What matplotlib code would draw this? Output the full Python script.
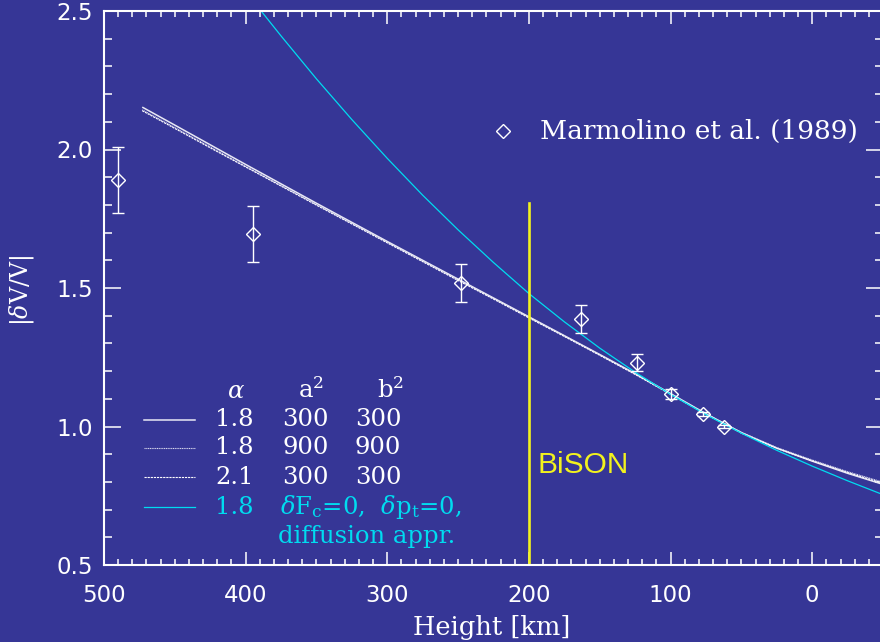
import matplotlib
matplotlib.use("Agg")
import matplotlib.pyplot as plt
from matplotlib.lines import Line2D
from matplotlib.ticker import MultipleLocator

# ---------------- data ----------------
obs_height = [490, 395, 248, 163, 124, 100, 77, 62]
obs_value = [1.89, 1.695, 1.518, 1.388, 1.230, 1.117, 1.045, 1.000]
obs_err = [0.12, 0.10, 0.07, 0.05, 0.03, 0.018, 0.008, 0.005]

model_height = [473, 450, 425, 400, 375, 350, 325, 300, 275, 250, 225, 200,
                175, 150, 125, 100, 75, 50, 25, 0, -25, -50]
model_a18_300 = [2.153, 2.088, 2.017, 1.946, 1.876, 1.806, 1.737, 1.668, 1.600,
                 1.532, 1.464, 1.396, 1.328, 1.260, 1.191, 1.119, 1.046, 0.978,
                 0.922, 0.875, 0.831, 0.791]
model_a18_900 = [2.143, 2.079, 2.009, 1.939, 1.870, 1.801, 1.733, 1.665, 1.597,
                 1.529, 1.462, 1.394, 1.327, 1.259, 1.190, 1.118, 1.046, 0.979,
                 0.924, 0.879, 0.837, 0.799]
model_a21_300 = [2.140, 2.076, 2.006, 1.937, 1.868, 1.799, 1.731, 1.663, 1.595,
                 1.527, 1.460, 1.392, 1.325, 1.257, 1.188, 1.116, 1.044, 0.976,
                 0.921, 0.876, 0.834, 0.795]

diff_height = [390, 375, 350, 325, 300, 275, 250, 225, 200, 175, 150, 125, 100,
               75, 50, 25, 0, -25, -50]
diff_value = [2.506, 2.410, 2.255, 2.108, 1.968, 1.835, 1.710, 1.592, 1.480,
              1.378, 1.283, 1.196, 1.116, 1.043, 0.976, 0.914, 0.857, 0.804,
              0.754]

bison_height = [200, 200]
bison_range = [0.5, 1.807]

x_ticks = [500, 400, 300, 200, 100, 0]
y_ticks = [0.5, 1.0, 1.5, 2.0, 2.5]

legend_rows = [("1.8", "300", "300"), ("1.8", "900", "900"), ("2.1", "300", "300")]

# ---------------- style ----------------
BG = "#363696"
CYAN = "#00dcf0"
YELLOW = "#f2f21e"
W, H = 880, 642
plt.rcParams["mathtext.fontset"] = "dejavuserif"
SERIF = "DejaVu Serif"

fig = plt.figure(figsize=(W / 100, H / 100), dpi=100, facecolor=BG)
ax = fig.add_axes([104 / W, 1 - 565 / H, (883 - 104) / W, (565 - 11) / H])
ax.set_facecolor(BG)

ax.plot(model_height, model_a18_300, color="#e8e8f4", lw=1.1, solid_capstyle="butt")
ax.plot(model_height, model_a18_900, color="#d8d8ee", lw=0.8, ls=(0, (1, 0.6)))
ax.plot(model_height, model_a21_300, color="#ffffff", lw=0.8, ls=(0, (2, 0.8)))
ax.plot(diff_height, diff_value, color=CYAN, lw=0.9)

ax.plot(bison_height, bison_range, color=YELLOW, lw=1.9)

ax.errorbar(obs_height, obs_value, yerr=obs_err, fmt="none", ecolor="white",
            elinewidth=1.0, capsize=4.5, capthick=1.0)
ax.plot(obs_height, obs_value, ls="none", marker="D", ms=7, mfc="none",
        mec="white", mew=1.0)

ax.set_xlim(500, -50)
ax.set_ylim(0.5, 2.5)
ax.set_xticks(x_ticks)
ax.set_yticks(y_ticks)
ax.xaxis.set_minor_locator(MultipleLocator(10))
ax.yaxis.set_minor_locator(MultipleLocator(0.1))
ax.set_xticklabels([str(v) for v in x_ticks])
ax.set_yticklabels([f"{v:.1f}" for v in y_ticks])

for s in ax.spines.values():
    s.set_color("white")
    s.set_linewidth(1.5)
ax.tick_params(which="both", direction="in", colors="white", top=True, right=True)
ax.tick_params(axis="x", which="major", length=9.5, width=1.1, pad=14,
               labelsize=16.5)
ax.tick_params(axis="x", which="minor", length=4.5, width=1.1)
ax.tick_params(axis="y", which="major", length=12, width=1.1, pad=8,
               labelsize=16.5)
ax.tick_params(axis="y", which="minor", length=6, width=1.1)
for lab in ax.get_xticklabels() + ax.get_yticklabels():
    lab.set_family("DejaVu Sans")

# axis labels
fig.text(492 / W, 1 - 627 / H, "Height [km]", color="white", family=SERIF,
         fontsize=18.5, ha="center", va="center")
fig.text(22 / W, 1 - 290 / H, r"|$\delta$V/V|", color="white", family=SERIF,
         fontsize=17, ha="center", va="center", rotation=90)

# Marmolino legend
fig.add_artist(Line2D([503 / W], [1 - 131 / H], ls="none", marker="D", ms=7,
                      mfc="none", mec="white", mew=1.0))
fig.text(540 / W, 1 - 131 / H, "Marmolino et al. (1989)", color="white",
         family=SERIF, fontsize=19, ha="left", va="center")

# BiSON label
fig.text(538 / W, 1 - 465 / H, "BiSON", color=YELLOW, family="Liberation Sans",
         fontsize=21.5, ha="left", va="center")

# table legend
def ftext(x, y, s, color="white", ha="left"):
    fig.text(x / W, 1 - y / H, s, color=color, family=SERIF, fontsize=17.5,
             ha=ha, va="center")

ftext(236, 392, r"$\alpha$", ha="center")
ftext(298, 390, r"a$^2$")
ftext(377, 390, r"b$^2$")
row_y = [420, 448, 477, 507]
styles = [dict(color="#e8e8f4", lw=1.1), dict(color="#d8d8ee", lw=0.8, ls=(0, (1, 0.6))),
          dict(color="#ffffff", lw=0.8, ls=(0, (2, 0.8))), dict(color=CYAN, lw=0.9)]
for y, st in zip(row_y, styles):
    fig.add_artist(Line2D([144 / W, 195 / W], [1 - y / H, 1 - y / H], **st))
for y, (al, a2, b2) in zip(row_y, legend_rows):
    ftext(215, y, al)
    ftext(282, y, a2)
    ftext(355, y, b2)
ftext(215, row_y[3], "1.8", color=CYAN)
ftext(280, row_y[3], r"$\delta$F$_{\rm c}$=0,  $\delta$p$_{\rm t}$=0,", color=CYAN)
ftext(278, 537, "diffusion appr.", color=CYAN)

fig.savefig("out.png", dpi=100, facecolor=BG)
